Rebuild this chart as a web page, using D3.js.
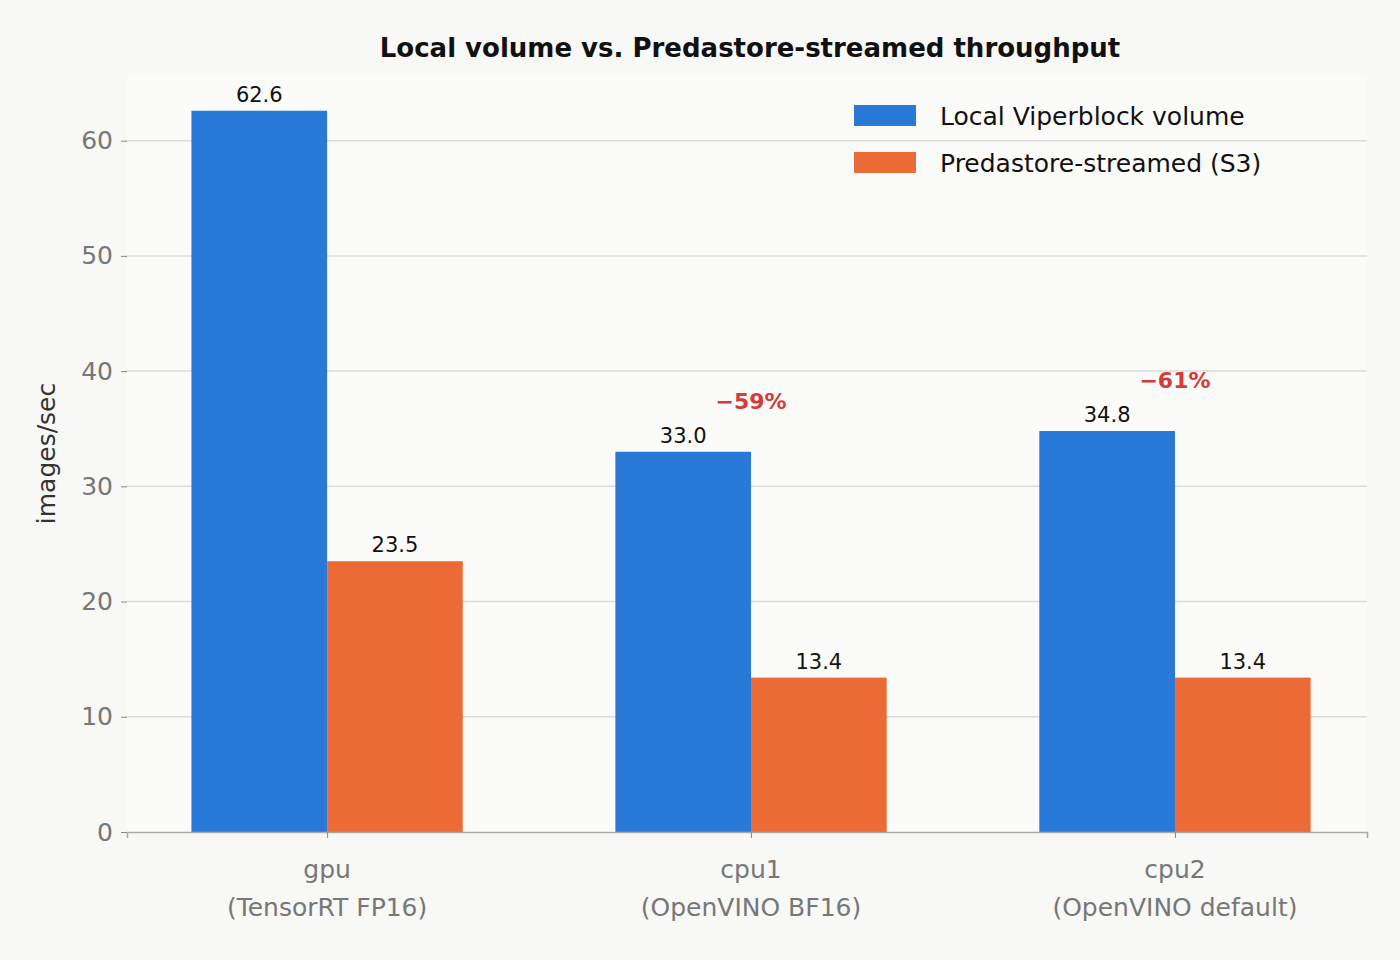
<!DOCTYPE html>
<html>
<head>
<meta charset="utf-8">
<script src="https://cdn.jsdelivr.net/npm/d3@7"></script>
<style>
  body { margin: 0; background: #f8f8f6; }
  text { font-family: "DejaVu Sans", sans-serif; }
</style>
</head>
<body>
<div id="svg-container"></div>
<script>
// data
const categories = ["gpu", "cpu1", "cpu2"];
const subLabels = ["(TensorRT FP16)", "(OpenVINO BF16)", "(OpenVINO default)"];
const localValues = [62.6, 33.0, 34.8];
const streamedValues = [23.5, 13.4, 13.4];
const dropLabels = [null, "\u221259%", "\u221261%"];
const seriesNames = ["Local Viperblock volume", "Predastore-streamed (S3)"];
const yTicks = [0, 10, 20, 30, 40, 50, 60];

const width = 1400, height = 960;
const margin = { top: 75, right: 33, bottom: 128, left: 127 };
const colors = ["#2979d6", "#eb6a35"];

const svg = d3.select("#svg-container").append("svg")
  .attr("width", width).attr("height", height);

svg.append("rect").attr("width", width).attr("height", height).attr("fill", "#f8f8f6");
svg.append("rect")
  .attr("x", margin.left).attr("y", margin.top)
  .attr("width", width - margin.left - margin.right)
  .attr("height", height - margin.top - margin.bottom)
  .attr("fill", "#fbfbf9");

// scales
const xScale = d3.scaleLinear().domain([-0.472, 2.453]).range([margin.left, width - margin.right]);
const yScale = d3.scaleLinear().domain([0, 65.7]).range([height - margin.bottom, margin.top]);
const barW = xScale(0.32) - xScale(0);

// grid
svg.append("g").selectAll("line").data(yTicks.slice(1)).enter().append("line")
  .attr("x1", margin.left).attr("x2", width - margin.right)
  .attr("y1", d => yScale(d)).attr("y2", d => yScale(d))
  .attr("stroke", "#dcdcdc").attr("stroke-width", 1.5);

// y axis
const yAxis = d3.axisLeft(yScale).tickValues(yTicks).tickSize(6).tickPadding(8);
const gy = svg.append("g").attr("transform", `translate(${margin.left},0)`).call(yAxis);
gy.select(".domain").remove();
gy.selectAll("line").attr("stroke", "#888");
gy.selectAll("text").attr("fill", "#777").attr("font-size", 25);

// bars
const series = [localValues, streamedValues];
series.forEach((vals, s) => {
  svg.append("g").selectAll("rect").data(vals).enter().append("rect")
    .attr("x", (d, i) => xScale(i) - (s === 0 ? barW : 0))
    .attr("y", d => yScale(d))
    .attr("width", barW)
    .attr("height", d => yScale(0) - yScale(d))
    .attr("fill", colors[s]);
  svg.append("g").selectAll("text").data(vals).enter().append("text")
    .attr("x", (d, i) => xScale(i) + (s === 0 ? -barW / 2 : barW / 2))
    .attr("y", d => yScale(d) - 9)
    .attr("text-anchor", "middle").attr("font-size", 21).attr("fill", "#111")
    .text(d => d.toFixed(1));
});

// drop labels
svg.append("g").selectAll("text").data(dropLabels).enter()
  .filter(d => d !== null).append("text")
  .attr("x", (d, i) => xScale(categories.indexOf(categories[dropLabels.indexOf(d)])))
  .attr("y", d => yScale(localValues[dropLabels.indexOf(d)] + 4.4) + 8)
  .attr("text-anchor", "middle").attr("font-size", 22).attr("font-weight", "bold")
  .attr("fill", "#d63b3b").text(d => d);

// x axis
const xAxis = d3.axisBottom(xScale).tickValues([0, 1, 2]).tickSize(6).tickFormat("");
const gx = svg.append("g").attr("transform", `translate(0,${yScale(0)})`).call(xAxis);
gx.select(".domain").attr("stroke", "#aaa").attr("stroke-width", 1.5);
gx.selectAll("line").attr("stroke", "#888");
categories.forEach((c, i) => {
  const t = svg.append("text").attr("x", xScale(i)).attr("y", yScale(0) + 46)
    .attr("text-anchor", "middle").attr("font-size", 25).attr("fill", "#777");
  t.append("tspan").attr("x", xScale(i)).text(c);
  t.append("tspan").attr("x", xScale(i)).attr("dy", 38).text(subLabels[i]);
});

// title & unit
svg.append("text").attr("x", 750).attr("y", 57).attr("text-anchor", "middle")
  .attr("font-size", 26).attr("font-weight", "bold").attr("fill", "#111")
  .text("Local volume vs. Predastore-streamed throughput");
svg.append("text").attr("transform", `translate(55,${(margin.top + yScale(0)) / 2}) rotate(-90)`)
  .attr("text-anchor", "middle").attr("font-size", 25).attr("fill", "#333").text("images/sec");

// legend
seriesNames.forEach((n, i) => {
  svg.append("rect").attr("x", 854).attr("y", 105 + 47 * i).attr("width", 62).attr("height", 21)
    .attr("fill", colors[i]);
  svg.append("text").attr("x", 940).attr("y", 125 + 47 * i).attr("font-size", 25)
    .attr("fill", "#111").text(n);
});
</script>
</body>
</html>
